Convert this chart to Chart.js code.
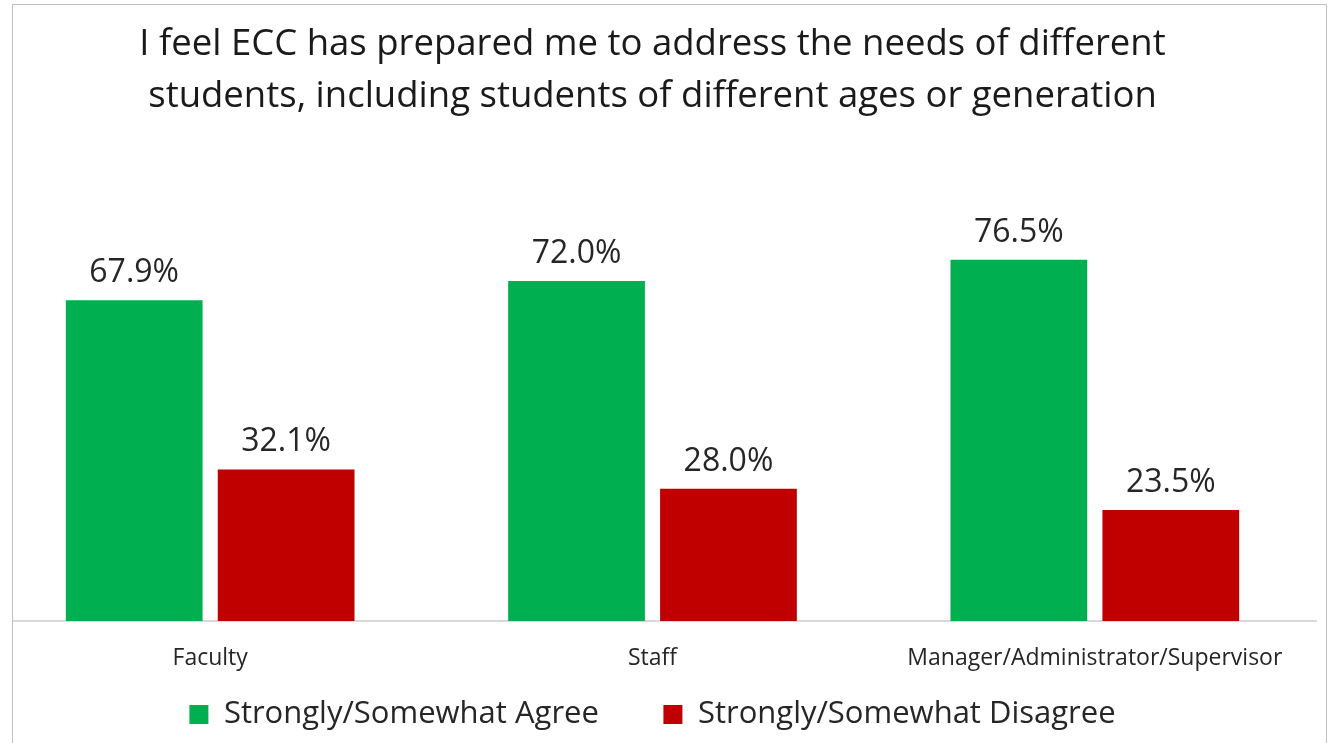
<!DOCTYPE html>
<html>
<head>
<meta charset="utf-8">
<script src="https://cdn.jsdelivr.net/npm/chart.js@4/dist/chart.umd.min.js"></script>
<style>
  html, body { margin: 0; padding: 0; background: #fff; overflow: hidden; }
  .frame {
    position: absolute; left: 12px; top: 4px;
    width: 1313px; height: 760px;
    border: 1px solid #bfbfbf;
    overflow: hidden;
  }
  /* plot area runs a little past the left edge of the frame */
  .chart-box { position: absolute; left: -24px; top: 0; width: 1337px; height: 738px; }
</style>
</head>
<body>
<div class="frame">
  <div class="chart-box"><canvas id="surveyChart"></canvas></div>
</div>
<script>
const categories = ['Faculty', 'Staff', 'Manager/Administrator/Supervisor'];
const agreeValues = [67.9, 72.0, 76.5];
const disagreeValues = [32.1, 28.0, 23.5];
const seriesNames = ['Strongly/Somewhat Agree', 'Strongly/Somewhat Disagree'];
const titleLines = [
  'I feel ECC has prepared me to address the needs of different',
  'students, including students of different ages or generation'
];

const FONT = "'Open Sans', sans-serif";

// draws the percentage above every bar
const valueLabels = {
  id: 'valueLabels',
  afterDatasetsDraw(chart) {
    const ctx = chart.ctx;
    ctx.save();
    ctx.font = "32px " + FONT;
    ctx.fillStyle = '#262626';
    ctx.textAlign = 'center';
    ctx.textBaseline = 'alphabetic';
    chart.data.datasets.forEach((ds, i) => {
      chart.getDatasetMeta(i).data.forEach((bar, j) => {
        ctx.fillText(ds.data[j].toFixed(1) + '%', bar.x, bar.y - 18);
      });
    });
    ctx.restore();
  }
};

new Chart(document.getElementById('surveyChart'), {
  type: 'bar',
  data: {
    labels: categories,
    datasets: [
      { label: seriesNames[0], data: agreeValues, backgroundColor: '#00b050' },
      { label: seriesNames[1], data: disagreeValues, backgroundColor: '#c00000' }
    ]
  },
  options: {
    responsive: true,
    maintainAspectRatio: false,
    animation: false,
    categoryPercentage: 0.687,
    barPercentage: 0.9,
    layout: { padding: { left: 0, right: 10, top: 0, bottom: 3 } },
    plugins: {
      title: {
        display: true,
        text: titleLines,
        color: '#1a1a1a',
        font: { family: FONT, size: 36.5, weight: 'normal', lineHeight: 1.42 },
        padding: { top: 14, bottom: 26 }
      },
      legend: {
        position: 'bottom',
        labels: {
          color: '#262626',
          font: { family: FONT, size: 31 },
          boxWidth: 19,
          boxHeight: 19,
          padding: 10,
          // padding is shared with the vertical spacing, so the wider gap
          // between entries comes from trailing spaces instead
          generateLabels(chart) {
            const items = Chart.defaults.plugins.legend.labels.generateLabels(chart);
            items.forEach((item, i) => {
              if (i < items.length - 1) item.text += '\u2002\u2002\u2002 ';
            });
            return items;
          }
        }
      },
      tooltip: { enabled: false }
    },
    scales: {
      x: {
        grid: { display: false, drawTicks: false },
        border: { display: true, color: '#d9d9d9', width: 2 },
        ticks: { color: '#262626', font: { family: FONT, size: 23 }, padding: 24 },
        afterFit(scale) { scale.height = 68; }
      },
      y: {
        display: false,
        min: 0,
        max: 100
      }
    }
  },
  plugins: [valueLabels]
});
</script>
</body>
</html>
